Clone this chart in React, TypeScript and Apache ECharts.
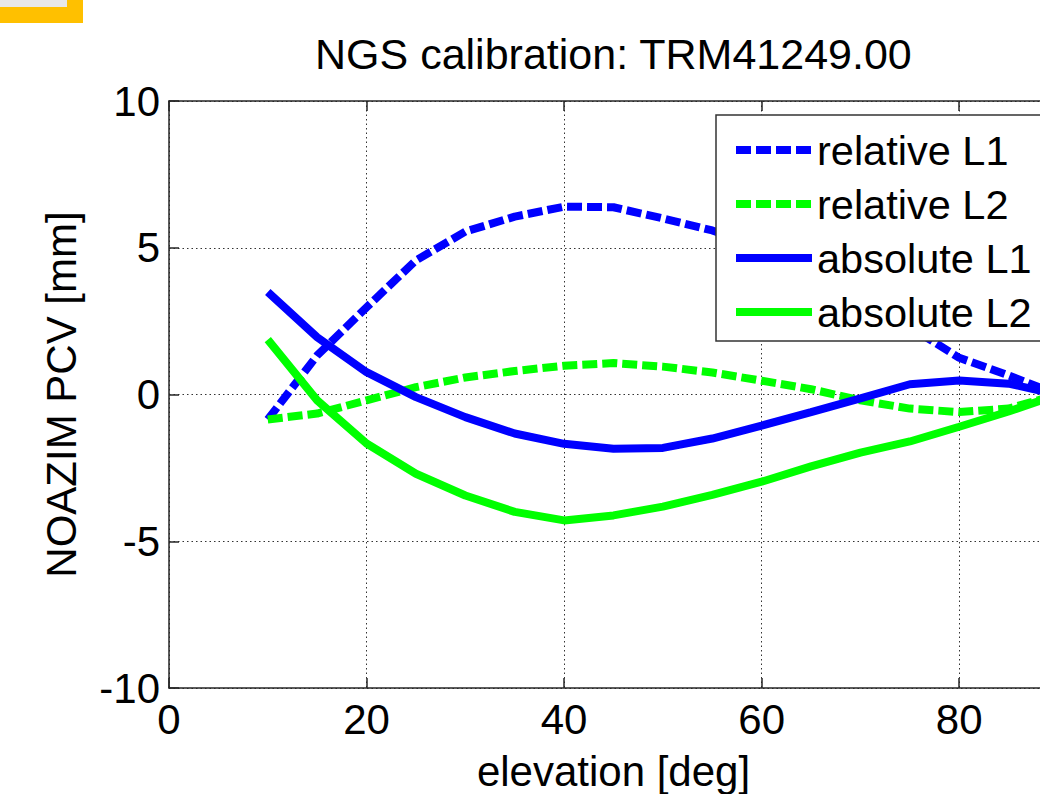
import React, { useEffect, useRef } from 'react';
import * as echarts from 'echarts';

const elevation = [10, 15, 20, 25, 30, 35, 40, 45, 50, 55, 60, 65, 70, 75, 80, 85, 90];
const relativeL1 = [-0.85, 1.33, 2.97, 4.57, 5.55, 6.06, 6.4, 6.38, 6.0, 5.59, 5.0, 4.2, 3.3, 2.3, 1.25, 0.65, 0.0];
const relativeL2 = [-0.85, -0.65, -0.2, 0.25, 0.58, 0.8, 0.98, 1.07, 0.95, 0.75, 0.47, 0.18, -0.2, -0.48, -0.6, -0.48, 0.0];
const absoluteL1 = [3.49, 1.95, 0.76, -0.09, -0.77, -1.33, -1.68, -1.85, -1.82, -1.5, -1.06, -0.6, -0.13, 0.35, 0.48, 0.37, 0.0];
const absoluteL2 = [1.87, -0.2, -1.67, -2.7, -3.44, -4.0, -4.29, -4.12, -3.82, -3.42, -2.97, -2.45, -1.98, -1.6, -1.1, -0.58, 0.0];

const xTicks = [0, 20, 40, 60, 80];
const yTicks = [-10, -5, 0, 5, 10];
const seriesNames = ['relative L1', 'relative L2', 'absolute L1', 'absolute L2'];

const FONT = '"Liberation Sans", Arial, Helvetica, sans-serif';
const BLUE = '#0000FF';
const GREEN = '#00FF00';
const AXIS = '#262626';
const DASH = [15, 5];

const toPoints = (vals: number[]) => elevation.map((x, i) => [x, vals[i]]);

export default function App() {
  const ref = useRef<HTMLDivElement>(null);
  useEffect(() => {
    if (!ref.current) return;
    const chart = echarts.init(ref.current, null, { renderer: 'svg' });
    const axisLineStyle = { color: AXIS, width: 1.5 };
    const gridLine = { show: true, lineStyle: { type: [1.5, 3], color: '#333', width: 1 } };
    const option: any = {
      animation: false,
      backgroundColor: '#fff',
      title: {
        text: 'NGS calibration: TRM41249.00',
        left: 315,
        top: 32,
        padding: 0,
        textStyle: { fontSize: 43, fontWeight: 'normal', color: '#000', fontFamily: FONT },
      },
      grid: { left: 169, top: 101, right: -18, bottom: 106, outerBoundsMode: 'none', containLabel: false },
      legend: {
        left: 716,
        top: 115,
        orient: 'vertical',
        itemWidth: 76,
        itemHeight: 8,
        itemGap: 12,
        padding: [14, 40, 8, 16],
        backgroundColor: '#fff',
        borderColor: '#333',
        borderWidth: 1.5,
        borderRadius: 0,
        lineStyle: { width: 8 },
        itemStyle: { opacity: 0 },
        textStyle: { fontSize: 41.5, lineHeight: 42, color: '#000', fontFamily: FONT },
        data: seriesNames,
      },
      xAxis: [
        {
          type: 'value',
          min: 0,
          max: 90,
          interval: 20,
          name: 'elevation [deg]',
          nameLocation: 'middle',
          nameGap: 62,
          nameMoveOverlap: false,
          nameTextStyle: { fontSize: 42, color: '#000', fontFamily: FONT },
          axisLine: { show: true, onZero: false, lineStyle: axisLineStyle },
          axisTick: { show: true, inside: true, length: 10, lineStyle: axisLineStyle },
          axisLabel: {
            fontSize: 42,
            color: '#000',
            fontFamily: FONT,
            margin: 10,
            showMaxLabel: false,
            formatter: (v: number) => (xTicks.includes(v) ? String(v) : ''),
          },
          splitLine: gridLine,
        },
        {
          type: 'value',
          position: 'top',
          min: 0,
          max: 90,
          interval: 20,
          axisLine: { show: true, onZero: false, lineStyle: axisLineStyle },
          axisTick: { show: true, inside: true, length: 10, lineStyle: axisLineStyle },
          axisLabel: { show: false },
          splitLine: { show: false },
        },
      ],
      yAxis: [
        {
          type: 'value',
          min: -10,
          max: 10,
          interval: 5,
          name: 'NOAZIM PCV [mm]',
          nameLocation: 'middle',
          nameGap: 87,
          nameRotate: 90,
          nameMoveOverlap: false,
          nameTextStyle: { fontSize: 42, color: '#000', fontFamily: FONT },
          axisLine: { show: true, onZero: false, lineStyle: axisLineStyle },
          axisTick: { show: true, inside: true, length: 10, lineStyle: axisLineStyle },
          axisLabel: {
            fontSize: 42,
            color: '#000',
            fontFamily: FONT,
            margin: 9,
            formatter: (v: number) => (yTicks.includes(v) ? String(v) : ''),
          },
          splitLine: gridLine,
        },
        {
          type: 'value',
          position: 'right',
          min: -10,
          max: 10,
          interval: 5,
          axisLine: { show: true, onZero: false, lineStyle: axisLineStyle },
          axisTick: { show: true, inside: true, length: 10, lineStyle: axisLineStyle },
          axisLabel: { show: false },
          splitLine: { show: false },
        },
      ],
      series: [
        { name: seriesNames[0], type: 'line', data: toPoints(relativeL1), symbol: 'none', lineStyle: { color: BLUE, width: 8, type: DASH }, itemStyle: { color: BLUE } },
        { name: seriesNames[1], type: 'line', data: toPoints(relativeL2), symbol: 'none', lineStyle: { color: GREEN, width: 8, type: DASH }, itemStyle: { color: GREEN } },
        { name: seriesNames[2], type: 'line', data: toPoints(absoluteL1), symbol: 'none', lineStyle: { color: BLUE, width: 8 }, itemStyle: { color: BLUE } },
        { name: seriesNames[3], type: 'line', data: toPoints(absoluteL2), symbol: 'none', lineStyle: { color: GREEN, width: 8 }, itemStyle: { color: GREEN } },
      ],
      graphic: [
        { type: 'rect', shape: { x: 0, y: 0, width: 83, height: 23 }, style: { fill: '#FFC000' }, z: 100 },
        { type: 'rect', shape: { x: 0, y: 0, width: 67, height: 7 }, style: { fill: '#E8E8E8' }, z: 101 },
      ],
    };
    chart.setOption(option);
    return () => chart.dispose();
  }, []);
  return (
    <div
      ref={ref}
      style={{ position: 'absolute', left: 0, top: 0, width: 1040, height: 794, overflow: 'hidden' }}
    />
  );
}
